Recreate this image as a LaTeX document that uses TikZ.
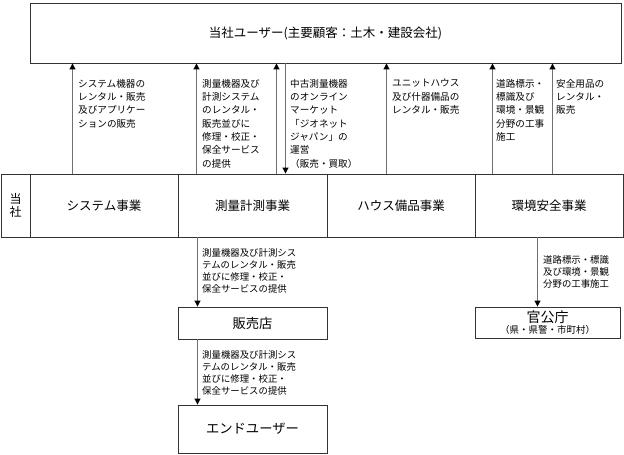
\documentclass[tikz,border=0pt]{standalone}
\usepackage{fontspec}
\setmainfont{Noto Sans CJK JP}
\usetikzlibrary{arrows.meta}
\definecolor{boxline}{HTML}{333333}
\definecolor{conline}{HTML}{707070}
\tikzset{
  box/.style={draw=boxline, line width=0.9pt, inner sep=0pt, align=center},
  cell/.style={box, minimum height=63pt, font=\fontsize{12.5}{15}\selectfont},
  conn/.style={draw=conline, line width=1pt, -{Triangle[length=6pt,width=6pt,black]}},
  lbl/.style={anchor=north west, inner sep=0pt, align=left, font=\fontsize{9.6}{13.3}\selectfont},
  lbls/.style={anchor=north west, inner sep=0pt, align=left, font=\fontsize{9.4}{12.3}\selectfont}
}
\begin{document}
\begin{tikzpicture}[x=1pt,y=-1pt]
\useasboundingbox (0,0) rectangle (624,455);
% top box
\node[box, minimum width=591pt, minimum height=60pt, font=\fontsize{12.5}{15}\selectfont] (users) at (325.5,33) {当社ユーザー(主要顧客：土木・建設会社)};
% band
\node[cell, minimum width=29pt, font=\fontsize{12}{13}\selectfont] (tosha) at (15.5,205.5) {当\\社};
\node[cell, minimum width=148pt] (sys) at (104,205.5) {システム事業};
\node[cell, minimum width=149pt] (sok) at (252.5,205.5) {測量計測事業};
\node[cell, minimum width=148pt] (house) at (401,205.5) {ハウス備品事業};
\node[cell, minimum width=148pt] (env) at (549,205.5) {環境安全事業};
% lower boxes
\node[box, minimum width=149pt, minimum height=32pt, font=\fontsize{13.3}{15}\selectfont] (shop) at (252.5,323) {販売店};
\node[box, minimum width=149pt, minimum height=48pt, font=\fontsize{13.3}{15}\selectfont] (end) at (252.5,429) {エンドユーザー};
\node[box, minimum width=145pt, minimum height=31pt] (gov) at (547.5,322.5) {{\fontsize{14}{14}\selectfont 官公庁}\\[-1pt]{\fontsize{9.5}{11}\selectfont （県・県警・市町村）}};
% arrow x positions
\coordinate (a1) at (72.5,0);
\coordinate (a2) at (196.5,0);
\coordinate (a3) at (276.5,0);
\coordinate (a4) at (285.5,0);
\coordinate (a5) at (386.5,0);
\coordinate (a6) at (492.5,0);
\coordinate (a7) at (552.5,0);
\coordinate (b1) at (197.5,0);
\coordinate (b2) at (537.5,0);
% up connectors
\draw[conn] (sys.north -| a1) -- (users.south -| a1);
\draw[conn] (sok.north -| a2) -- (users.south -| a2);
\draw[conn] (sok.north -| a3) -- (users.south -| a3);
\draw[conn] (users.south -| a4) -- (sok.north -| a4);
\draw[conn] (house.north -| a5) -- (users.south -| a5);
\draw[conn] (env.north -| a6) -- (users.south -| a6);
\draw[conn] (env.north -| a7) -- (users.south -| a7);
% down connectors
\draw[conn] (sok.south -| b1) -- (shop.north -| b1);
\draw[conn] (shop.south -| b1) -- (end.north -| b1);
\draw[conn] (env.south -| b2) -- (gov.north -| b2);
% labels
\node[lbl] (t1) at (78,79) {システム機器の\\レンタル・販売\\及びアプリケー\\ションの販売};
\node[lbl] (t2) at (202,79) {測量機器及び\\計測システム\\のレンタル・\\販売並びに\\修理・校正・\\保全サービス\\の提供};
\node[lbl] (t3) at (290,79) {中古測量機器\\のオンライン\\マーケット\\「ジオネット\\ジャパン」の\\運営\\（販売・買取）};
\node[lbl] (t4) at (392,79) {ユニットハウス\\及び什器備品の\\レンタル・販売};
\node[lbl] (t5) at (496,79) {道路標示・\\標識及び\\環境・景観\\分野の工事\\施工};
\node[lbl] (t6) at (556,79) {安全用品の\\レンタル・\\販売};
\node[lbls] (t7) at (202,248) {測量機器及び計測シス\\テムのレンタル・販売\\並びに修理・校正・\\保全サービスの提供};
\node[lbls] (t8) at (202,350) {測量機器及び計測シス\\テムのレンタル・販売\\並びに修理・校正・\\保全サービスの提供};
\node[lbls] (t9) at (543,255) {道路標示・標識\\及び環境・景観\\分野の工事施工};
\end{tikzpicture}
\end{document}
